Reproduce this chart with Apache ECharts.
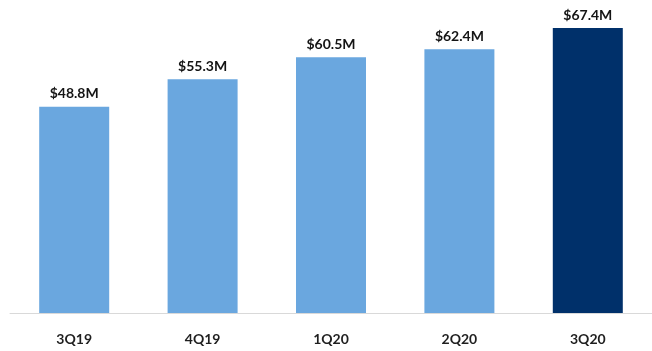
<!DOCTYPE html>
<html>
<head>
<meta charset="utf-8">
<script src="https://cdn.jsdelivr.net/npm/echarts@6/dist/echarts.min.js"></script>
<style>
  html, body { margin: 0; padding: 0; background: #ffffff; }
  #chart { width: 652px; height: 351px; }
</style>
</head>
<body>
<div id="chart"></div>
<script>
// Quarterly revenue, in millions of dollars
const quarters = ['3Q19', '4Q19', '1Q20', '2Q20', '3Q20'];
const revenue = [48.8, 55.3, 60.5, 62.4, 67.4];
const valueLabels = ['$48.8M', '$55.3M', '$60.5M', '$62.4M', '$67.4M'];

const lightBlue = '#6aa7df';
const navy = '#00306a';

const chart = echarts.init(document.getElementById('chart'), null, { renderer: 'canvas' });

chart.setOption({
  animation: false,
  backgroundColor: '#ffffff',
  grid: { left: 10, width: 645, top: 17, bottom: 38, containLabel: false },
  xAxis: {
    type: 'category',
    data: quarters,
    axisLine: { show: true, lineStyle: { color: '#d9d9d9', width: 1 } },
    axisTick: { show: false },
    axisLabel: {
      margin: 19,
      color: '#1f1f1f',
      fontFamily: 'Lato, "Open Sans", sans-serif',
      fontWeight: 'bold',
      fontSize: 14
    }
  },
  yAxis: {
    type: 'value',
    min: 0,
    max: 70,
    show: false,
    splitLine: { show: false }
  },
  series: [{
    type: 'bar',
    barWidth: 70,
    data: revenue.map((v, i) => ({
      value: v,
      itemStyle: { color: i === revenue.length - 1 ? navy : lightBlue }
    })),
    label: {
      show: true,
      position: 'top',
      distance: 6,
      formatter: p => valueLabels[p.dataIndex],
      color: '#141414',
      fontFamily: 'Lato, "Open Sans", sans-serif',
      fontWeight: 'bold',
      fontSize: 14
    }
  }]
});
</script>
</body>
</html>
